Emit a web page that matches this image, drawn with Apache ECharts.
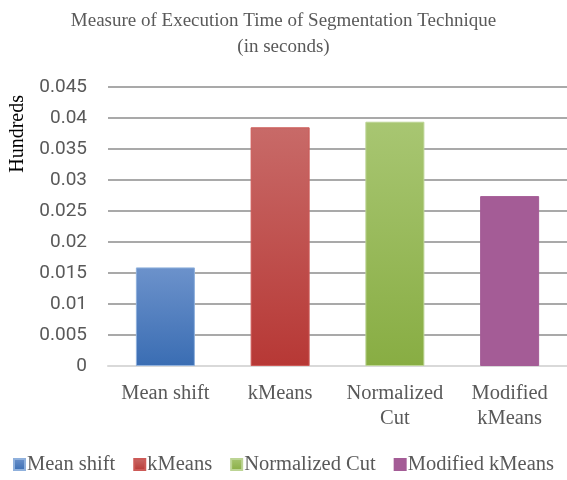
<!DOCTYPE html>
<html><head><meta charset="utf-8">
<script src="https://cdn.jsdelivr.net/npm/echarts@6/dist/echarts.min.js"></script>
<style>html,body{margin:0;padding:0;background:#fff}#c{width:567px;height:480px}</style>
</head><body><div id="c"></div>
<script>
var categories = ['Mean shift', 'kMeans', 'Normalized\nCut', 'Modified\nkMeans'];
var seriesNames = ['Mean shift', 'kMeans', 'Normalized Cut', 'Modified kMeans'];
var values = [0.0159, 0.0385, 0.0394, 0.0274];
var yTicks = { min: 0, max: 0.045, interval: 0.005 };
var colorsTop = ['#6c92cb', '#c86a68', '#a8c672', '#a45c96'];
var colorsBottom = ['#3a6db3', '#b73835', '#88ad43', '#a45c96'];
var borderColors = ['#8fb0dc', '#cc5a57', '#bcd494', '#a45c96'];

var chart = echarts.init(document.getElementById('c'));
var series = seriesNames.map(function (name, i) {
  var data = categories.map(function (_, j) { return j === i ? values[i] : '-'; });
  return {
    name: name, type: 'bar', stack: 'all', barWidth: 59, data: data,
    itemStyle: {
      color: new echarts.graphic.LinearGradient(0, 0, 0, 1, [
        { offset: 0, color: colorsTop[i] }, { offset: 1, color: colorsBottom[i] }
      ]),
      borderColor: borderColors[i], borderWidth: 1
    }
  };
});
chart.setOption({
  animation: false,
  title: {
    text: 'Measure of Execution Time of Segmentation Technique\n(in seconds)',
    left: 'center', top: 3,
    textStyle: { fontFamily: 'Liberation Serif', fontSize: 19, fontWeight: 'normal', color: '#595959', lineHeight: 26 }
  },
  legend: {
    data: seriesNames, bottom: 0, left: 'center',
    itemWidth: 11, itemHeight: 11, itemGap: 18, icon: 'rect',
    textStyle: { fontFamily: 'Liberation Serif', fontSize: 20.5, color: '#595959', padding: [0, 0, 0, -3] }
  },
  graphic: [{
    type: 'text', left: 8, top: 95, rotation: Math.PI / 2,
    style: { text: 'Hundreds', font: '20px "Liberation Serif"', fill: '#000' }
  }],
  grid: { left: 108, right: 0, top: 87, bottom: 114, containLabel: false },
  xAxis: {
    type: 'category', data: categories,
    axisLine: { lineStyle: { color: '#d9d9d9', width: 2 } },
    axisTick: { show: false },
    axisLabel: { interval: 0, fontFamily: 'Liberation Serif', fontSize: 20.5, color: '#595959', lineHeight: 25, margin: 15 }
  },
  yAxis: {
    type: 'value', min: yTicks.min, max: yTicks.max, interval: yTicks.interval,
    axisLine: { show: false }, axisTick: { show: false },
    axisLabel: { fontFamily: 'Roboto', fontSize: 19, color: '#595959', margin: 21 },
    splitLine: { lineStyle: { color: '#8c8c8c', width: 1.5 } }
  },
  series: series
});
</script></body></html>
